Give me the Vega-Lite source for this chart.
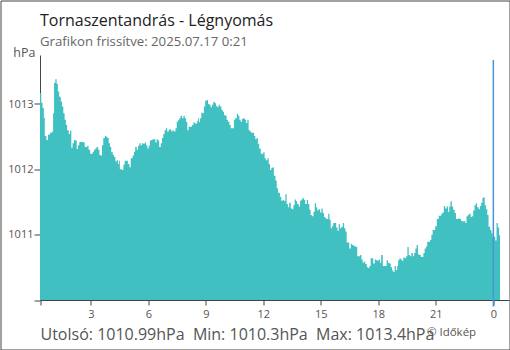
{
  "$schema": "https://vega.github.io/schema/vega-lite/v6.json",
  "width": 509,
  "height": 349,
  "autosize": {"type": "none"},
  "padding": {"left": 0.5, "top": 0.5, "right": 0.5, "bottom": 0.5},
  "background": "white",
  "title": {
    "text": "Tornaszentandrás - Légnyomás",
    "subtitle": "Grafikon frissítve: 2025.07.17 0:21",
    "anchor": "start",
    "frame": "group",
    "dx": 39.5,
    "offset": -47.5,
    "font": "Open Sans",
    "fontSize": 16,
    "fontWeight": "normal",
    "color": "#222222",
    "subtitleFont": "Open Sans",
    "subtitleFontSize": 13.2,
    "subtitleColor": "#666666",
    "subtitlePadding": 7
  },
  "config": {
    "view": {"stroke": "#444444", "strokeWidth": 1},
    "font": "Open Sans",
    "axis": {"grid": false, "domainColor": "#444444", "tickColor": "#444444", "labelColor": "#555555", "labelFont": "Open Sans", "titleFont": "Open Sans"}
  },
  "layer": [
    {
      "data": {"values": [
{"minute":21,"pressure":1013.17},{"minute":25,"pressure":1013.02},{"minute":29,"pressure":1012.94},{"minute":33,"pressure":1012.79},{"minute":36,"pressure":1012.51},{"minute":41,"pressure":1012.45},{"minute":46,"pressure":1012.53},{"minute":52,"pressure":1012.56},{"minute":59,"pressure":1012.58},{"minute":62,"pressure":1012.86},{"minute":65,"pressure":1013.32},{"minute":69,"pressure":1013.38},{"minute":73,"pressure":1013.31},{"minute":77,"pressure":1013.19},{"minute":81,"pressure":1013.11},{"minute":86,"pressure":1013.04},{"minute":90,"pressure":1012.96},{"minute":94,"pressure":1012.86},{"minute":98,"pressure":1012.76},{"minute":102,"pressure":1012.68},{"minute":106,"pressure":1012.60},{"minute":111,"pressure":1012.54},{"minute":115,"pressure":1012.59},{"minute":119,"pressure":1012.33},{"minute":123,"pressure":1012.40},{"minute":127,"pressure":1012.45},{"minute":131,"pressure":1012.44},{"minute":136,"pressure":1012.31},{"minute":140,"pressure":1012.37},{"minute":144,"pressure":1012.42},{"minute":150,"pressure":1012.42},{"minute":157,"pressure":1012.41},{"minute":161,"pressure":1012.34},{"minute":165,"pressure":1012.34},{"minute":169,"pressure":1012.36},{"minute":173,"pressure":1012.30},{"minute":178,"pressure":1012.24},{"minute":182,"pressure":1012.24},{"minute":186,"pressure":1012.27},{"minute":190,"pressure":1012.30},{"minute":194,"pressure":1012.32},{"minute":198,"pressure":1012.34},{"minute":203,"pressure":1012.30},{"minute":207,"pressure":1012.22},{"minute":211,"pressure":1012.21},{"minute":215,"pressure":1012.37},{"minute":219,"pressure":1012.48},{"minute":224,"pressure":1012.51},{"minute":228,"pressure":1012.50},{"minute":232,"pressure":1012.48},{"minute":236,"pressure":1012.40},{"minute":240,"pressure":1012.34},{"minute":244,"pressure":1012.26},{"minute":249,"pressure":1012.22},{"minute":253,"pressure":1012.19},{"minute":257,"pressure":1012.12},{"minute":261,"pressure":1012.14},{"minute":265,"pressure":1012.08},{"minute":268,"pressure":1012.13},{"minute":271,"pressure":1012.00},{"minute":278,"pressure":1011.99},{"minute":282,"pressure":1012.07},{"minute":286,"pressure":1012.13},{"minute":292,"pressure":1012.13},{"minute":296,"pressure":1012.08},{"minute":301,"pressure":1012.03},{"minute":305,"pressure":1012.17},{"minute":311,"pressure":1012.21},{"minute":315,"pressure":1012.27},{"minute":319,"pressure":1012.34},{"minute":324,"pressure":1012.30},{"minute":328,"pressure":1012.36},{"minute":332,"pressure":1012.40},{"minute":336,"pressure":1012.37},{"minute":340,"pressure":1012.40},{"minute":344,"pressure":1012.39},{"minute":349,"pressure":1012.41},{"minute":353,"pressure":1012.37},{"minute":357,"pressure":1012.32},{"minute":361,"pressure":1012.36},{"minute":365,"pressure":1012.44},{"minute":369,"pressure":1012.45},{"minute":374,"pressure":1012.46},{"minute":378,"pressure":1012.46},{"minute":382,"pressure":1012.41},{"minute":386,"pressure":1012.46},{"minute":390,"pressure":1012.44},{"minute":394,"pressure":1012.34},{"minute":399,"pressure":1012.40},{"minute":403,"pressure":1012.48},{"minute":407,"pressure":1012.54},{"minute":411,"pressure":1012.60},{"minute":415,"pressure":1012.63},{"minute":419,"pressure":1012.58},{"minute":424,"pressure":1012.61},{"minute":428,"pressure":1012.61},{"minute":432,"pressure":1012.58},{"minute":436,"pressure":1012.60},{"minute":440,"pressure":1012.58},{"minute":445,"pressure":1012.63},{"minute":449,"pressure":1012.73},{"minute":453,"pressure":1012.75},{"minute":457,"pressure":1012.78},{"minute":461,"pressure":1012.82},{"minute":466,"pressure":1012.78},{"minute":470,"pressure":1012.82},{"minute":474,"pressure":1012.78},{"minute":478,"pressure":1012.73},{"minute":482,"pressure":1012.60},{"minute":486,"pressure":1012.65},{"minute":493,"pressure":1012.65},{"minute":497,"pressure":1012.68},{"minute":501,"pressure":1012.72},{"minute":505,"pressure":1012.70},{"minute":509,"pressure":1012.70},{"minute":513,"pressure":1012.74},{"minute":516,"pressure":1012.78},{"minute":519,"pressure":1012.72},{"minute":522,"pressure":1012.78},{"minute":526,"pressure":1012.87},{"minute":530,"pressure":1012.86},{"minute":534,"pressure":1012.96},{"minute":538,"pressure":1013.05},{"minute":543,"pressure":1013.06},{"minute":547,"pressure":1013.00},{"minute":551,"pressure":1012.99},{"minute":555,"pressure":1012.95},{"minute":559,"pressure":1012.99},{"minute":563,"pressure":1013.03},{"minute":568,"pressure":1013.01},{"minute":572,"pressure":1012.97},{"minute":576,"pressure":1012.95},{"minute":580,"pressure":1012.99},{"minute":584,"pressure":1012.96},{"minute":589,"pressure":1012.91},{"minute":593,"pressure":1012.88},{"minute":597,"pressure":1012.83},{"minute":601,"pressure":1012.82},{"minute":605,"pressure":1012.76},{"minute":609,"pressure":1012.73},{"minute":614,"pressure":1012.68},{"minute":618,"pressure":1012.63},{"minute":624,"pressure":1012.63},{"minute":628,"pressure":1012.76},{"minute":632,"pressure":1012.78},{"minute":637,"pressure":1012.85},{"minute":641,"pressure":1012.82},{"minute":645,"pressure":1012.76},{"minute":649,"pressure":1012.73},{"minute":653,"pressure":1012.77},{"minute":657,"pressure":1012.78},{"minute":662,"pressure":1012.76},{"minute":666,"pressure":1012.71},{"minute":670,"pressure":1012.76},{"minute":674,"pressure":1012.60},{"minute":678,"pressure":1012.58},{"minute":682,"pressure":1012.56},{"minute":687,"pressure":1012.56},{"minute":691,"pressure":1012.51},{"minute":695,"pressure":1012.46},{"minute":699,"pressure":1012.48},{"minute":703,"pressure":1012.39},{"minute":707,"pressure":1012.32},{"minute":712,"pressure":1012.24},{"minute":716,"pressure":1012.24},{"minute":720,"pressure":1012.26},{"minute":724,"pressure":1012.17},{"minute":728,"pressure":1012.14},{"minute":733,"pressure":1012.17},{"minute":737,"pressure":1012.08},{"minute":741,"pressure":1011.99},{"minute":745,"pressure":1012.02},{"minute":749,"pressure":1012.03},{"minute":753,"pressure":1011.90},{"minute":758,"pressure":1011.83},{"minute":762,"pressure":1011.71},{"minute":766,"pressure":1011.64},{"minute":772,"pressure":1011.58},{"minute":776,"pressure":1011.52},{"minute":781,"pressure":1011.53},{"minute":785,"pressure":1011.51},{"minute":789,"pressure":1011.62},{"minute":793,"pressure":1011.47},{"minute":797,"pressure":1011.42},{"minute":801,"pressure":1011.49},{"minute":806,"pressure":1011.40},{"minute":810,"pressure":1011.39},{"minute":814,"pressure":1011.45},{"minute":818,"pressure":1011.54},{"minute":822,"pressure":1011.51},{"minute":826,"pressure":1011.47},{"minute":831,"pressure":1011.43},{"minute":835,"pressure":1011.52},{"minute":839,"pressure":1011.54},{"minute":843,"pressure":1011.56},{"minute":847,"pressure":1011.53},{"minute":851,"pressure":1011.47},{"minute":856,"pressure":1011.53},{"minute":860,"pressure":1011.47},{"minute":864,"pressure":1011.38},{"minute":868,"pressure":1011.30},{"minute":872,"pressure":1011.28},{"minute":877,"pressure":1011.35},{"minute":881,"pressure":1011.48},{"minute":885,"pressure":1011.42},{"minute":889,"pressure":1011.37},{"minute":893,"pressure":1011.39},{"minute":898,"pressure":1011.34},{"minute":902,"pressure":1011.40},{"minute":906,"pressure":1011.33},{"minute":910,"pressure":1011.27},{"minute":914,"pressure":1011.25},{"minute":918,"pressure":1011.24},{"minute":923,"pressure":1011.32},{"minute":927,"pressure":1011.23},{"minute":931,"pressure":1011.10},{"minute":935,"pressure":1011.13},{"minute":939,"pressure":1011.18},{"minute":943,"pressure":1011.18},{"minute":948,"pressure":1011.11},{"minute":952,"pressure":1011.06},{"minute":956,"pressure":1011.16},{"minute":960,"pressure":1011.10},{"minute":964,"pressure":1011.12},{"minute":969,"pressure":1011.18},{"minute":973,"pressure":1011.10},{"minute":977,"pressure":1011.05},{"minute":981,"pressure":1010.88},{"minute":985,"pressure":1010.88},{"minute":989,"pressure":1010.79},{"minute":994,"pressure":1010.86},{"minute":998,"pressure":1010.84},{"minute":1002,"pressure":1010.83},{"minute":1006,"pressure":1010.82},{"minute":1010,"pressure":1010.81},{"minute":1014,"pressure":1010.67},{"minute":1023,"pressure":1010.69},{"minute":1027,"pressure":1010.62},{"minute":1031,"pressure":1010.57},{"minute":1035,"pressure":1010.59},{"minute":1039,"pressure":1010.55},{"minute":1044,"pressure":1010.50},{"minute":1048,"pressure":1010.49},{"minute":1052,"pressure":1010.52},{"minute":1056,"pressure":1010.64},{"minute":1060,"pressure":1010.64},{"minute":1064,"pressure":1010.56},{"minute":1069,"pressure":1010.62},{"minute":1073,"pressure":1010.61},{"minute":1077,"pressure":1010.60},{"minute":1081,"pressure":1010.62},{"minute":1085,"pressure":1010.57},{"minute":1089,"pressure":1010.69},{"minute":1094,"pressure":1010.52},{"minute":1098,"pressure":1010.52},{"minute":1102,"pressure":1010.52},{"minute":1106,"pressure":1010.61},{"minute":1110,"pressure":1010.57},{"minute":1114,"pressure":1010.56},{"minute":1119,"pressure":1010.50},{"minute":1123,"pressure":1010.45},{"minute":1127,"pressure":1010.43},{"minute":1131,"pressure":1010.52},{"minute":1135,"pressure":1010.46},{"minute":1139,"pressure":1010.52},{"minute":1142,"pressure":1010.61},{"minute":1146,"pressure":1010.64},{"minute":1150,"pressure":1010.62},{"minute":1154,"pressure":1010.60},{"minute":1158,"pressure":1010.65},{"minute":1163,"pressure":1010.64},{"minute":1167,"pressure":1010.67},{"minute":1171,"pressure":1010.81},{"minute":1175,"pressure":1010.69},{"minute":1179,"pressure":1010.67},{"minute":1183,"pressure":1010.72},{"minute":1188,"pressure":1010.67},{"minute":1192,"pressure":1010.72},{"minute":1196,"pressure":1010.79},{"minute":1200,"pressure":1010.84},{"minute":1204,"pressure":1010.70},{"minute":1208,"pressure":1010.69},{"minute":1213,"pressure":1010.66},{"minute":1217,"pressure":1010.66},{"minute":1221,"pressure":1010.72},{"minute":1225,"pressure":1010.79},{"minute":1229,"pressure":1010.82},{"minute":1233,"pressure":1010.89},{"minute":1238,"pressure":1010.89},{"minute":1242,"pressure":1010.92},{"minute":1246,"pressure":1011.00},{"minute":1250,"pressure":1011.07},{"minute":1254,"pressure":1011.07},{"minute":1258,"pressure":1011.13},{"minute":1263,"pressure":1011.24},{"minute":1269,"pressure":1011.29},{"minute":1273,"pressure":1011.29},{"minute":1277,"pressure":1011.32},{"minute":1281,"pressure":1011.34},{"minute":1285,"pressure":1011.44},{"minute":1289,"pressure":1011.40},{"minute":1294,"pressure":1011.43},{"minute":1298,"pressure":1011.35},{"minute":1302,"pressure":1011.43},{"minute":1306,"pressure":1011.51},{"minute":1310,"pressure":1011.43},{"minute":1314,"pressure":1011.38},{"minute":1319,"pressure":1011.33},{"minute":1323,"pressure":1011.24},{"minute":1327,"pressure":1011.24},{"minute":1331,"pressure":1011.25},{"minute":1335,"pressure":1011.24},{"minute":1339,"pressure":1011.21},{"minute":1344,"pressure":1011.20},{"minute":1348,"pressure":1011.21},{"minute":1352,"pressure":1011.18},{"minute":1356,"pressure":1011.28},{"minute":1360,"pressure":1011.30},{"minute":1364,"pressure":1011.32},{"minute":1369,"pressure":1011.27},{"minute":1373,"pressure":1011.28},{"minute":1377,"pressure":1011.37},{"minute":1381,"pressure":1011.45},{"minute":1385,"pressure":1011.48},{"minute":1389,"pressure":1011.42},{"minute":1394,"pressure":1011.39},{"minute":1398,"pressure":1011.44},{"minute":1402,"pressure":1011.49},{"minute":1406,"pressure":1011.56},{"minute":1408,"pressure":1011.57},{"minute":1413,"pressure":1011.45},{"minute":1417,"pressure":1011.39},{"minute":1421,"pressure":1011.30},{"minute":1425,"pressure":1011.12},{"minute":1430,"pressure":1011.07},{"minute":1434,"pressure":1011.02},{"minute":1438,"pressure":1010.96},{"minute":1442,"pressure":1010.97},{"minute":1446,"pressure":1010.91},{"minute":1450,"pressure":1011.18},{"minute":1454,"pressure":1011.11},{"minute":1458,"pressure":1010.99},{"minute":1461,"pressure":1010.99}
      ]},
      "mark": {"type": "area", "interpolate": "step-after", "color": "#40c0c0"},
      "encoding": {
        "x": {
          "field": "minute", "type": "quantitative",
          "scale": {"domain": [21, 1489], "range": [39.5, 508.5], "nice": false, "zero": false},
          "axis": {
            "orient": "bottom", "offset": -49.5,
            "values": [21, 180, 360, 540, 720, 900, 1080, 1260, 1440],
            "labelExpr": "datum.value == 21 ? '' : '' + ((datum.value / 60) % 24)",
            "tickSize": 5, "labelPadding": 3, "labelFontSize": 11, "labelFlush": false, "labelOverlap": false,
            "title": "Utolsó: 1010.99hPa\u00a0 Min: 1010.3hPa\u00a0 Max: 1013.4hPa",
            "titleAnchor": "start", "titleAlign": "left", "titleX": 39.5, "titleY": 39.5,
            "titleBaseline": "alphabetic", "titleFontSize": 16, "titleFontWeight": "normal", "titleColor": "#555555"
          }
        },
        "y": {
          "field": "pressure", "type": "quantitative",
          "scale": {"domain": [1010, 1013.75], "range": [299.5, 54.5], "nice": false, "zero": false},
          "axis": {
            "orient": "left", "offset": -39.5,
            "values": [1010, 1011, 1012, 1013],
            "format": "d",
            "labelExpr": "datum.value == 1010 ? '' : datum.label",
            "tickSize": 6, "labelPadding": 1, "labelFontSize": 11,
            "title": "hPa", "titleAngle": 0, "titleX": -5, "titleY": 55.5,
            "titleAlign": "right", "titleBaseline": "alphabetic", "titleFontSize": 12.5,
            "titleFontWeight": "normal", "titleColor": "#555555"
          }
        },
        "y2": {"datum": 1010}
      }
    },
    {
      "data": {"values": [{"minute": 1440}]},
      "mark": {"type": "rule", "color": "#4a94d6", "strokeWidth": 1.5},
      "encoding": {
        "x": {"field": "minute", "type": "quantitative"},
        "y": {"datum": 1013.675},
        "y2": {"datum": 1009.9}
      }
    },
    {
      "data": {"values": [{"label": "© Időkép"}]},
      "mark": {"type": "text", "align": "left", "baseline": "alphabetic", "fontSize": 11.5, "font": "Open Sans", "color": "#555555"},
      "encoding": {
        "x": {"datum": 1232},
        "y": {"datum": 1009.449},
        "text": {"field": "label"}
      }
    }
  ]
}
